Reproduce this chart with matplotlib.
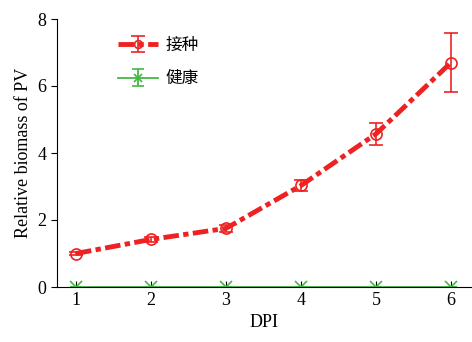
import matplotlib
matplotlib.use("Agg")
import matplotlib.pyplot as plt

dpi_x = [1, 2, 3, 4, 5, 6]
inoculated = [1.0, 1.42, 1.75, 3.03, 4.57, 6.70]
inoculated_err = [0.05, 0.08, 0.10, 0.15, 0.33, 0.87]
healthy = [0, 0, 0, 0, 0, 0]
healthy_err = [0, 0, 0, 0, 0, 0]
labels = ["接种", "健康"]
xticks = [1, 2, 3, 4, 5, 6]
yticks = [0, 2, 4, 6, 8]

plt.rcParams['font.family'] = ['Liberation Serif', 'Noto Sans CJK SC']
plt.rcParams['font.size'] = 13

fig = plt.figure(figsize=(4.72, 3.42), dpi=100)
ax = fig.add_axes([57/472, 55/342, 415/472, 268/342])

ax.errorbar(dpi_x, healthy, yerr=healthy_err, color='#44b844', lw=1.3,
            marker='x', ms=9, mew=1.2, capsize=4, label=labels[1], zorder=2)
ax.errorbar(dpi_x, inoculated, yerr=inoculated_err, color='#ee2222', lw=3.5,
            ls=(0, (3.2, 0.9, 1.1, 0.9)), marker='o', ms=8, mfc='none', mew=1.2,
            capsize=5, elinewidth=1.2, label=labels[0], zorder=3)

ax.set_xlim(0.747, 6.28)
ax.set_ylim(0, 8)
ax.set_xticks(xticks)
ax.set_yticks(yticks)
ax.spines['top'].set_visible(False)
ax.spines['right'].set_visible(False)
ax.tick_params(axis='x', direction='in', length=4)
ax.tick_params(axis='y', direction='out', length=4)
ax.set_xlabel('DPI')
ax.set_ylabel('Relative biomass of PV')

handles, lbls = ax.get_legend_handles_labels()
ax.legend(handles[::-1], lbls[::-1], loc='upper left', bbox_to_anchor=(0.11, 0.99),
          frameon=False, handlelength=2.4, handletextpad=0.5, labelspacing=1.0,
          markerscale=0.7, prop={'family': ['Noto Sans CJK SC'], 'size': 12})

fig.savefig('out.png', dpi=100)
